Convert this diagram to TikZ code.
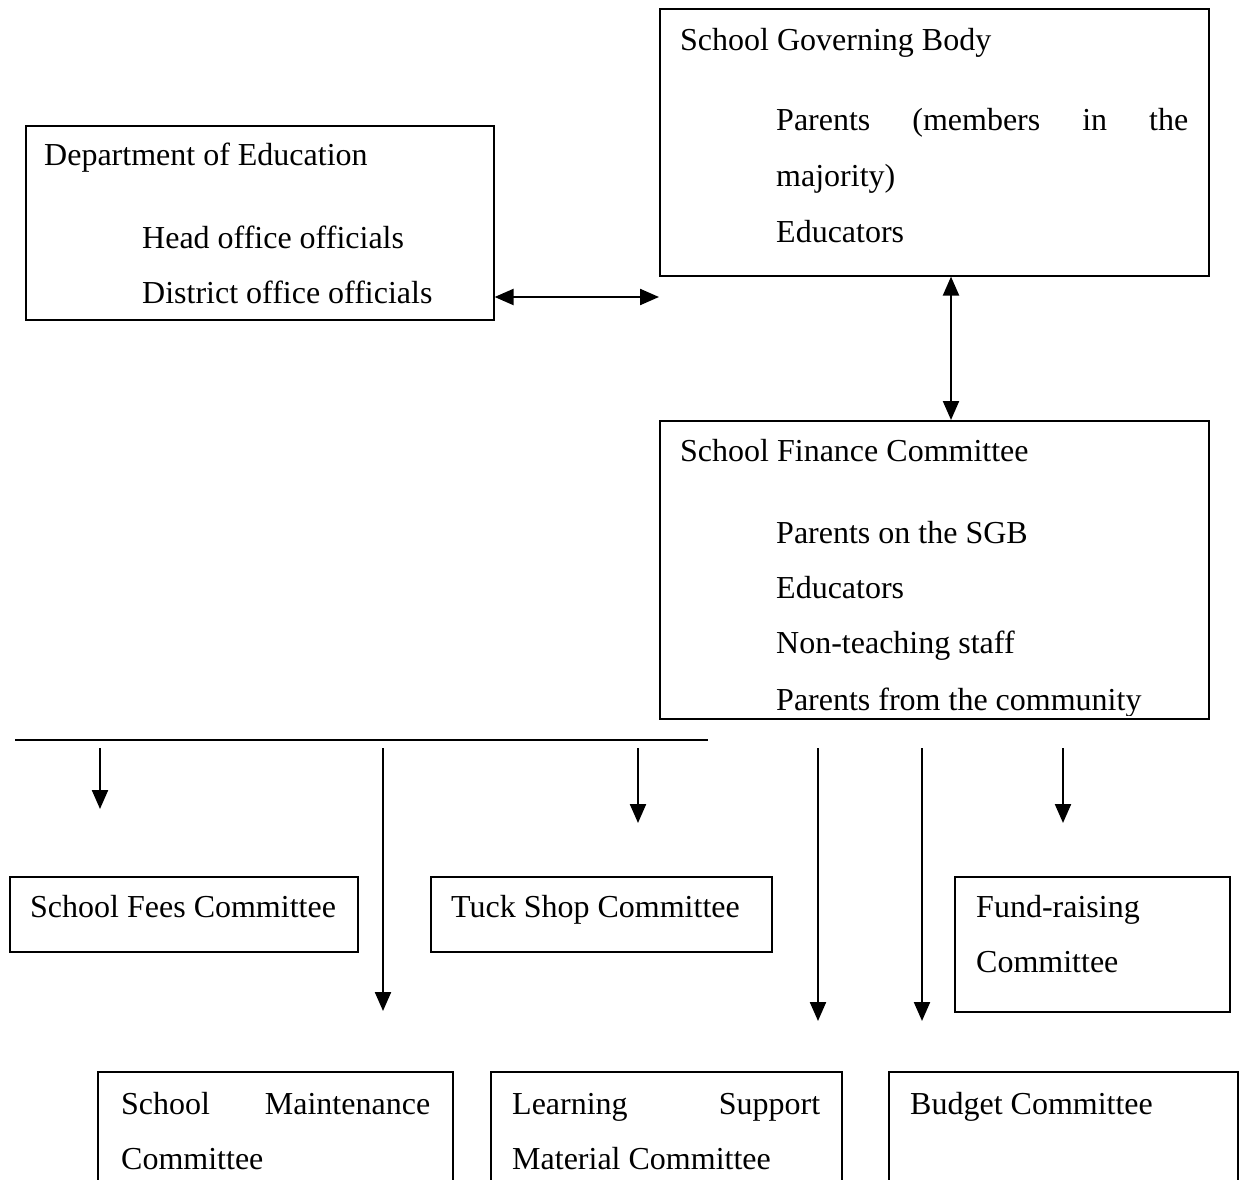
\documentclass[tikz,border=0pt]{standalone}
\usepackage{fontspec}
\setmainfont{Liberation Serif}
\usetikzlibrary{arrows.meta}
\begin{document}
\begin{tikzpicture}[x=1pt,y=-1pt,
  box/.style={draw,line width=1.6pt,inner sep=0pt,anchor=north west},
  txt/.style={anchor=base west,inner sep=0pt,font=\fontsize{32}{55}\selectfont},
  conn/.style={line width=2.2pt,-{Triangle[length=19pt,width=16pt]}},
  twoway/.style={line width=2.2pt,{Triangle[length=19pt,width=16pt]}-{Triangle[length=19pt,width=16pt]}},
  rule/.style={line width=1.4pt}]
\useasboundingbox (0,0) rectangle (1240,1180);
\clip (0,0) rectangle (1240,1180);
\fill[white] (0,0) rectangle (1240,1180);

% boxes
\node[box,minimum width=468pt,minimum height=194pt] (dept) at (25,125) {};
\node[box,minimum width=549pt,minimum height=267pt] (sgb) at (659,8) {};
\node[box,minimum width=549pt,minimum height=298pt] (fin) at (659,420) {};
\node[box,minimum width=348pt,minimum height=75pt] (fees) at (9,876) {};
\node[box,minimum width=341pt,minimum height=75pt] (tuck) at (430,876) {};
\node[box,minimum width=275pt,minimum height=135pt] (fund) at (954,876) {};
\node[box,minimum width=355pt,minimum height=140pt] (maint) at (97,1071) {};
\node[box,minimum width=351pt,minimum height=140pt] (lsm) at (490,1071) {};
\node[box,minimum width=349pt,minimum height=140pt] (budget) at (888,1071) {};

% texts
\node[txt] (deptt) at (44,166) {Department of Education};
\node[txt] (dept1) at (142,248) {Head office officials};
\node[txt] (dept2) at (142,303) {District office officials};

\node[txt] (sgbt) at (680,51) {School Governing Body};
\node[txt] (sgb1) at (776,131) {\makebox[412pt][s]{Parents (members in the}};
\node[txt] (sgb2) at (776,186) {majority)};
\node[txt] (sgb3) at (776,242) {Educators};

\node[txt] (fint) at (680,461) {School Finance Committee};
\node[txt] (fin1) at (776,543) {Parents on the SGB};
\node[txt] (fin2) at (776,598) {Educators};
\node[txt] (fin3) at (776,653) {Non-teaching staff};
\begin{scope}
\clip (659,420) rectangle (1208,715);
\node[txt] (fin4) at (776,710) {Parents from the community};
\end{scope}

\node[txt] (feest) at (30,917) {School Fees Committee};
\node[txt] (tuckt) at (451,917) {Tuck Shop Committee};
\node[txt] (fundt1) at (976,917) {Fund-raising};
\node[txt] (fundt2) at (976,972) {Committee};
\node[txt] (maintt1) at (121,1114) {\makebox[309pt][s]{School Maintenance}};
\node[txt] (maintt2) at (121,1169) {Committee};
\node[txt] (lsmt1) at (512,1114) {\makebox[308pt][s]{Learning Support}};
\node[txt] (lsmt2) at (512,1169) {Material Committee};
\node[txt] (budt) at (910,1114) {Budget Committee};

% connectors
\coordinate (hend) at (659,297);
\draw[twoway] (dept.east |- hend) -- (hend);
\draw[twoway] (sgb.south -| 951,0) -- (fin.north -| 951,0);

\coordinate (l1) at (15,740);
\coordinate (l2) at (708,740);
\draw[rule] (l1) -- (l2);

\coordinate (d1s) at (100,748);  \coordinate (d1e) at (100,809);
\coordinate (d2s) at (383,748);  \coordinate (d2e) at (383,1011);
\coordinate (d3s) at (638,748);  \coordinate (d3e) at (638,823);
\coordinate (d4s) at (818,748);  \coordinate (d4e) at (818,1021);
\coordinate (d5s) at (922,748);  \coordinate (d5e) at (922,1021);
\coordinate (d6s) at (1063,748); \coordinate (d6e) at (1063,823);
\foreach \i in {1,...,6} {\draw[conn] (d\i s) -- (d\i e);}
\end{tikzpicture}
\end{document}
